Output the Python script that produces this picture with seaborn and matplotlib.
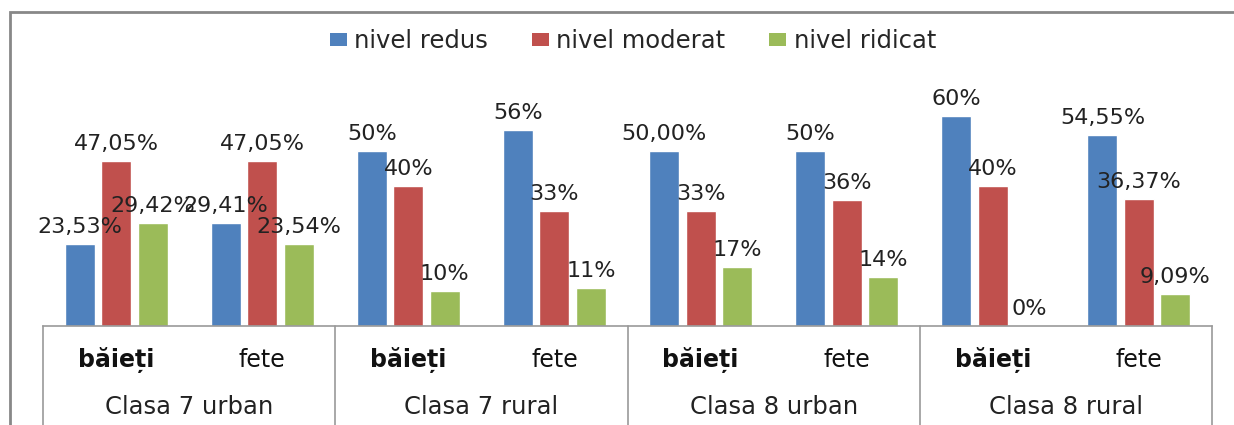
import matplotlib
matplotlib.use("Agg")
import matplotlib.pyplot as plt
import matplotlib.transforms as mtransforms
from matplotlib.patches import Rectangle, Patch
from matplotlib.lines import Line2D
import seaborn as sns
import pandas as pd

groups = ["Clasa 7 urban", "Clasa 7 rural", "Clasa 8 urban", "Clasa 8 rural"]
subgroups = ["băieți", "fete"]
series = ["nivel redus", "nivel moderat", "nivel ridicat"]

redus = [23.53, 29.41, 50, 56, 50.00, 50, 60, 54.55]
moderat = [47.05, 47.05, 40, 33, 33, 36, 40, 36.37]
ridicat = [29.42, 23.54, 10, 11, 17, 14, 0, 9.09]

labels_redus = ["23,53%", "29,41%", "50%", "56%", "50,00%", "50%", "60%", "54,55%"]
labels_moderat = ["47,05%", "47,05%", "40%", "33%", "33%", "36%", "40%", "36,37%"]
labels_ridicat = ["29,42%", "23,54%", "10%", "11%", "17%", "14%", "0%", "9,09%"]

colors = ["#4F81BD", "#C0504D", "#9BBB59"]

keys = [f"{g}|{s}" for g in groups for s in subgroups]
rows = []
for name, vals in zip(series, [redus, moderat, ridicat]):
    for k, v in zip(keys, vals):
        rows.append({"cat": k, "serie": name, "val": v})
df = pd.DataFrame(rows)

sns.set_theme(style="white")
plt.rcParams["font.family"] = ["DejaVu Sans"]

W, H = 1234, 425
fig = plt.figure(figsize=(W / 100, H / 100), dpi=100)
ax_left, ax_right = 43 / W, 1212 / W
ax_bottom, ax_top = (H - 326) / H, (H - 81) / H
ax = fig.add_axes([ax_left, ax_bottom, ax_right - ax_left, ax_top - ax_bottom])

sns.barplot(data=df, x="cat", y="val", hue="serie", order=keys, hue_order=series,
            palette=colors, width=0.75, gap=0.18, saturation=1, ax=ax,
            legend=False, errorbar=None)

for cont, labs in zip(ax.containers, [labels_redus, labels_moderat, labels_ridicat]):
    ax.bar_label(cont, labels=labs, padding=5, fontsize=16, color="#222222")

ax.set_xlim(-0.5, len(keys) - 0.5)
ax.set_ylim(0, 70)
ax.set_xticks([])
ax.set_yticks([])
ax.set_xlabel("")
ax.set_ylabel("")
for s in ["left", "right", "top"]:
    ax.spines[s].set_visible(False)
ax.spines["bottom"].set_color("#999999")
ax.spines["bottom"].set_linewidth(1.2)

trans = mtransforms.blended_transform_factory(ax.transData, fig.transFigure)
y_axis = (H - 326) / H
for i in range(len(groups) + 1):
    x = -0.5 + 2 * i
    ax.add_line(Line2D([x, x], [y_axis, 0], transform=trans, color="#999999",
                       lw=1.2, clip_on=False))

for i, k in enumerate(keys):
    g, s = k.split("|")
    ax.text(i, (H - 360) / H, s, transform=trans, ha="center", va="center",
            fontsize=17, fontweight="bold" if s == "băieți" else "normal",
            color="#111111")
for j, g in enumerate(groups):
    ax.text(2 * j + 0.5, (H - 407) / H, g, transform=trans, ha="center",
            va="center", fontsize=17.5, color="#222222")

handles = [Patch(facecolor=c, edgecolor="none") for c in colors]
fig.legend(handles, series, loc="center", bbox_to_anchor=(633 / W, 1 - 41 / H),
           ncol=3, frameon=False, fontsize=17.5, handlelength=0.7, handleheight=0.45,
           columnspacing=1.8, handletextpad=0.3)

fig.patches.append(Rectangle((10 / W, -0.05), 1.1, 1 - 12 / H + 0.05,
                             transform=fig.transFigure, fill=False,
                             edgecolor="#888888", lw=2, clip_on=False))

fig.savefig("out.png", dpi=100)
